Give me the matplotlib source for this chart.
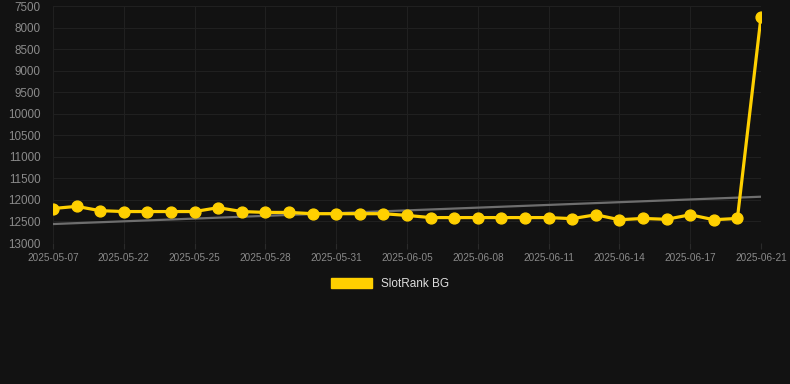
import matplotlib
matplotlib.use("Agg")
import matplotlib.pyplot as plt
import numpy as np

# -------------------- DATOS --------------------
etiquetas_x = ["2025-05-07", "2025-05-22", "2025-05-25", "2025-05-28", "2025-05-31",
               "2025-06-05", "2025-06-08", "2025-06-11", "2025-06-14", "2025-06-17",
               "2025-06-21"]
rangos = [12200, 12150, 12250, 12270, 12270, 12270, 12270, 12180, 12270, 12290,
          12290, 12320, 12320, 12320, 12320, 12360, 12410, 12410, 12410, 12410,
          12410, 12410, 12435, 12345, 12460, 12430, 12450, 12345, 12460, 12430,
          7750]
tendencia = [12560, 11926]  # inicio y fin de la línea de tendencia

# -------------------- ESTILO --------------------
fondo = "#121212"
amarillo = "#FFD000"
plt.rcParams['font.family'] = ['Liberation Sans', 'DejaVu Sans']

fig = plt.figure(figsize=(7.9, 3.84), dpi=100, facecolor=fondo)
ax = fig.add_axes([53 / 790, 1 - 243 / 384, 708 / 790, 237 / 384])
ax.set_facecolor(fondo)

x = np.arange(len(rangos))
ax.plot([x[0], x[-1]], tendencia, color="#6e6e6e", lw=1.6, zorder=2)
ax.plot(x, rangos, color=amarillo, lw=2.3, marker="o", markersize=7.8,
        label="SlotRank BG", zorder=3)

ax.set_xlim(0, len(rangos) - 1)
ax.set_ylim(13000, 7500)
ax.set_yticks(np.arange(7500, 13001, 500))
ax.set_xticks(np.arange(0, len(rangos), 3))
ax.set_xticklabels(etiquetas_x)

ax.grid(True, color="#202020", lw=0.8)
for s in ax.spines.values():
    s.set_visible(False)
ax.tick_params(axis="y", length=0, pad=9, labelsize=8.4, labelcolor="#8a8a8a")
ax.tick_params(axis="x", length=4, color="#2a2a2a", pad=3, labelsize=7.2, labelcolor="#8a8a8a")

leg = fig.legend(handles=[plt.Rectangle((0, 0), 1, 1, color=amarillo)], labels=["SlotRank BG"],
                 loc="center", bbox_to_anchor=(390 / 790, 1 - 284 / 384), frameon=False,
                 handlelength=3.5, handleheight=1.0, fontsize=8.5, labelcolor="#dddddd")

fig.savefig("out.png", dpi=100, facecolor=fondo)
